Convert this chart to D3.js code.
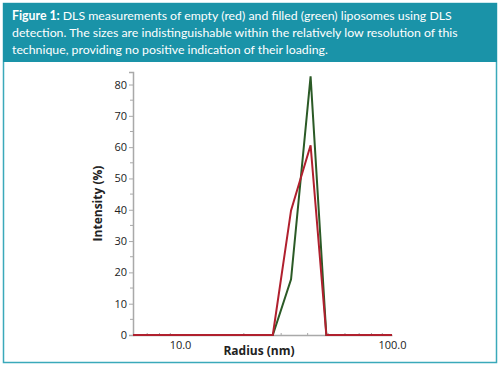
<!DOCTYPE html>
<html>
<head>
<meta charset="utf-8">
<script src="https://cdn.jsdelivr.net/npm/d3@7"></script>
<style>
  html, body { margin: 0; padding: 0; background: #fff; }
  svg { display: block; }
</style>
</head>
<body>
<div id="chart"></div>
<script>
// radius bins (nm) and intensity (%)
const radius = [6.0, 27.4, 33.4, 41.3, 49.0, 100.0];
const emptyIntensity = [0, 0, 39.8, 60.6, 0, 0];   // red
const filledIntensity = [0, 0, 17.8, 82.6, 0, 0];  // green
const yTicks = [0, 10, 20, 30, 40, 50, 60, 70, 80];
const xTicks = [10, 100];
const captionLines = [
  ['Figure 1: ', 'DLS measurements of empty (red) and filled (green) liposomes using DLS'],
  ['', 'detection. The sizes are indistinguishable within the relatively low resolution of this'],
  ['', 'technique, providing no positive indication of their loading.'],
];

const W = 500, H = 367;
const teal = '#1a93a8';

const svg = d3.select('#chart').append('svg')
  .attr('width', W)
  .attr('height', H);

// frame + header
svg.append('rect')
  .attr('x', 3.5).attr('y', 3.5)
  .attr('width', W - 7).attr('height', H - 8)
  .attr('fill', '#fff')
  .attr('stroke', '#3aa9ba')
  .attr('stroke-width', 1.5);
svg.append('rect')
  .attr('x', 3).attr('y', 3)
  .attr('width', W - 6).attr('height', 59)
  .attr('fill', teal);

const cap = svg.append('text')
  .attr('font-family', 'Lato, "Noto Sans", sans-serif')
  .attr('font-size', 12.3)
  .attr('fill', '#fff');
captionLines.forEach((ln, i) => {
  const t = cap.append('tspan').attr('x', 12).attr('y', 20 + i * 17);
  if (ln[0]) t.append('tspan').attr('font-weight', 'bold').text(ln[0]);
  t.append('tspan').text(ln[1]);
});

// plot
const x = d3.scaleLog().domain([6, 100]).range([133, 392]);
const y = d3.scaleLinear().domain([0, 84]).range([335, 72]);

const axisColor = '#a9a9a9';
const labelFont = '"Open Sans", "Noto Sans", sans-serif';

const yAxis = svg.append('g')
  .attr('transform', `translate(${x.range()[0]},0)`)
  .call(d3.axisLeft(y).tickValues(yTicks).tickSize(4).tickPadding(2).tickFormat(d3.format('d')));
// minor ticks at the fives
yAxis.selectAll('line.minor')
  .data(yTicks.map(d => d + 5).filter(d => d < 84))
  .enter().append('line').classed('minor', true)
  .attr('x1', -3).attr('x2', 0)
  .attr('y1', d => y(d)).attr('y2', d => y(d))
  .attr('stroke', axisColor);

const xAxis = svg.append('g')
  .attr('transform', `translate(0,${y(0)})`)
  .call(d3.axisBottom(x).tickValues(xTicks).tickSize(0).tickPadding(6).tickFormat(d3.format('.1f')));
xAxis.selectAll('line.minor')
  .data([20, 30, 40, 50, 60, 70, 80, 90, 7, 8, 9])
  .enter().append('line').classed('minor', true)
  .attr('x1', d => x(d)).attr('x2', d => x(d))
  .attr('y1', -2).attr('y2', 0)
  .attr('stroke', axisColor);

[yAxis, xAxis].forEach(g => {
  g.select('.domain').attr('stroke', axisColor).attr('stroke-width', 1.5);
  g.selectAll('.tick line').attr('stroke', axisColor);
  g.selectAll('.tick text')
    .attr('font-family', labelFont)
    .attr('font-size', 11)
    .attr('fill', '#222');
});

svg.append('text')
  .attr('transform', `translate(102,${y(42)}) rotate(-90)`)
  .attr('text-anchor', 'middle')
  .attr('font-family', labelFont)
  .attr('font-weight', 'bold')
  .attr('font-size', 12)
  .attr('fill', '#222')
  .text('Intensity (%)');

svg.append('text')
  .attr('x', 259).attr('y', 355)
  .attr('text-anchor', 'middle')
  .attr('font-family', labelFont)
  .attr('font-weight', 'bold')
  .attr('font-size', 12)
  .attr('fill', '#222')
  .text('Radius (nm)');

const line = d3.line()
  .x(d => x(d[0]))
  .y(d => y(d[1]));

const series = [
  { values: filledIntensity, color: '#2b5a26' },
  { values: emptyIntensity, color: '#b0202e' },
];
svg.selectAll('path.series')
  .data(series)
  .enter().append('path').classed('series', true)
  .attr('d', s => line(radius.map((r, i) => [r, s.values[i]])))
  .attr('fill', 'none')
  .attr('stroke', s => s.color)
  .attr('stroke-width', 2)
  .attr('stroke-linejoin', 'miter');
</script>
</body>
</html>
